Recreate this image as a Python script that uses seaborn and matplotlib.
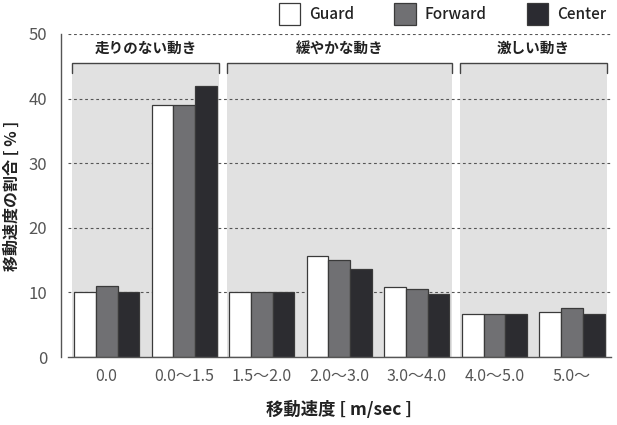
import matplotlib.pyplot as plt
import matplotlib.ticker as mticker
from matplotlib.patches import Patch, Rectangle
import seaborn as sns
import pandas as pd

# data
speed_bins = ['0.0', '0.0〜1.5', '1.5〜2.0', '2.0〜3.0', '3.0〜4.0', '4.0〜5.0', '5.0〜']
guard = [10.1, 39.0, 10.1, 15.7, 10.9, 6.6, 6.9]
forward = [11.0, 39.0, 10.1, 15.0, 10.6, 6.6, 7.6]
center = [10.1, 41.9, 10.0, 13.6, 9.7, 6.6, 6.6]
positions = ['Guard', 'Forward', 'Center']
colors = ['#ffffff', '#707073', '#2b2b31']

# movement groups: (label, first bin, last bin)
groups = [('走りのない動き', 0, 1), ('緩やかな動き', 2, 4), ('激しい動き', 5, 6)]

df = pd.DataFrame({
    'speed': speed_bins * 3,
    'pos': [p for p in positions for _ in speed_bins],
    'pct': guard + forward + center,
})

sns.set_style('white')
plt.rcParams['font.family'] = ['Noto Sans CJK JP', 'DejaVu Sans']

fig = plt.figure(figsize=(6.17, 4.25), dpi=100)
ax = fig.add_axes([0.110, 0.16, 0.880, 0.76])

# gray group panels + brackets
for label, a, b in groups:
    x0, x1 = a - 0.45, b + 0.45
    ax.add_patch(Rectangle((x0, 0), x1 - x0, 45.5, facecolor='#e1e1e1',
                           edgecolor='none', zorder=0))
    ax.plot([x0, x0, x1, x1], [44.0, 45.5, 45.5, 44.0], color='#444444',
            lw=1.0, zorder=1, solid_joinstyle='miter')
    ax.text((x0 + x1) / 2, 47.8, label, ha='center', va='center',
            fontsize=10.5, fontweight='bold', color='#222222')

for yv in range(10, 51, 10):
    ax.axhline(yv, color='#555555', lw=0.8, ls=(0, (2.5, 2.5)), zorder=1.5)

sns.barplot(data=df, x='speed', y='pct', hue='pos', order=speed_bins,
            hue_order=positions, palette=colors, width=0.84, ax=ax,
            edgecolor='#3a3a3a', linewidth=0.9, legend=False, zorder=2)

ax.set_xlim(-0.5, 6.5)
ax.set_ylim(0, 50)
ax.yaxis.set_major_locator(mticker.MultipleLocator(10))

# ticks at bin boundaries, labels at bin centres
ax.xaxis.set_major_locator(mticker.FixedLocator([i - 0.5 for i in range(8)]))
ax.xaxis.set_major_formatter(mticker.NullFormatter())
ax.xaxis.set_minor_locator(mticker.FixedLocator(range(7)))
ax.xaxis.set_minor_formatter(mticker.FixedFormatter(speed_bins))
ax.tick_params(axis='x', which='major', length=5, width=1, color='#555555', direction='out')
ax.tick_params(axis='x', which='minor', length=0, pad=8, labelsize=11.5, labelcolor='#555555')
ax.tick_params(axis='y', length=6, width=1, color='#555555', labelsize=12,
               labelcolor='#555555', pad=4)

sns.despine(ax=ax)
ax.spines['left'].set_position(('outward', 5))
for s in ('left', 'bottom'):
    ax.spines[s].set_color('#555555')
    ax.spines[s].set_linewidth(1.0)

ax.set_xlabel('移動速度 [ m/sec ]', fontsize=12.5, fontweight='bold', color='#222222', labelpad=11)
ax.set_ylabel('移動速度の割合 [ % ]', fontsize=11.5, fontweight='bold', color='#222222', labelpad=6)

handles = [Patch(facecolor=c, edgecolor='#3a3a3a', lw=0.9, label=p) for p, c in zip(positions, colors)]
fig.legend(handles=handles, loc='center right', bbox_to_anchor=(1.005, 0.967), ncol=3,
           frameon=False, prop={'size': 11, 'weight': 'medium'}, handlelength=1.4,
           handleheight=1.75, handletextpad=0.6, columnspacing=2.6, labelcolor='#222222')

plt.savefig('out.png', dpi=100)
